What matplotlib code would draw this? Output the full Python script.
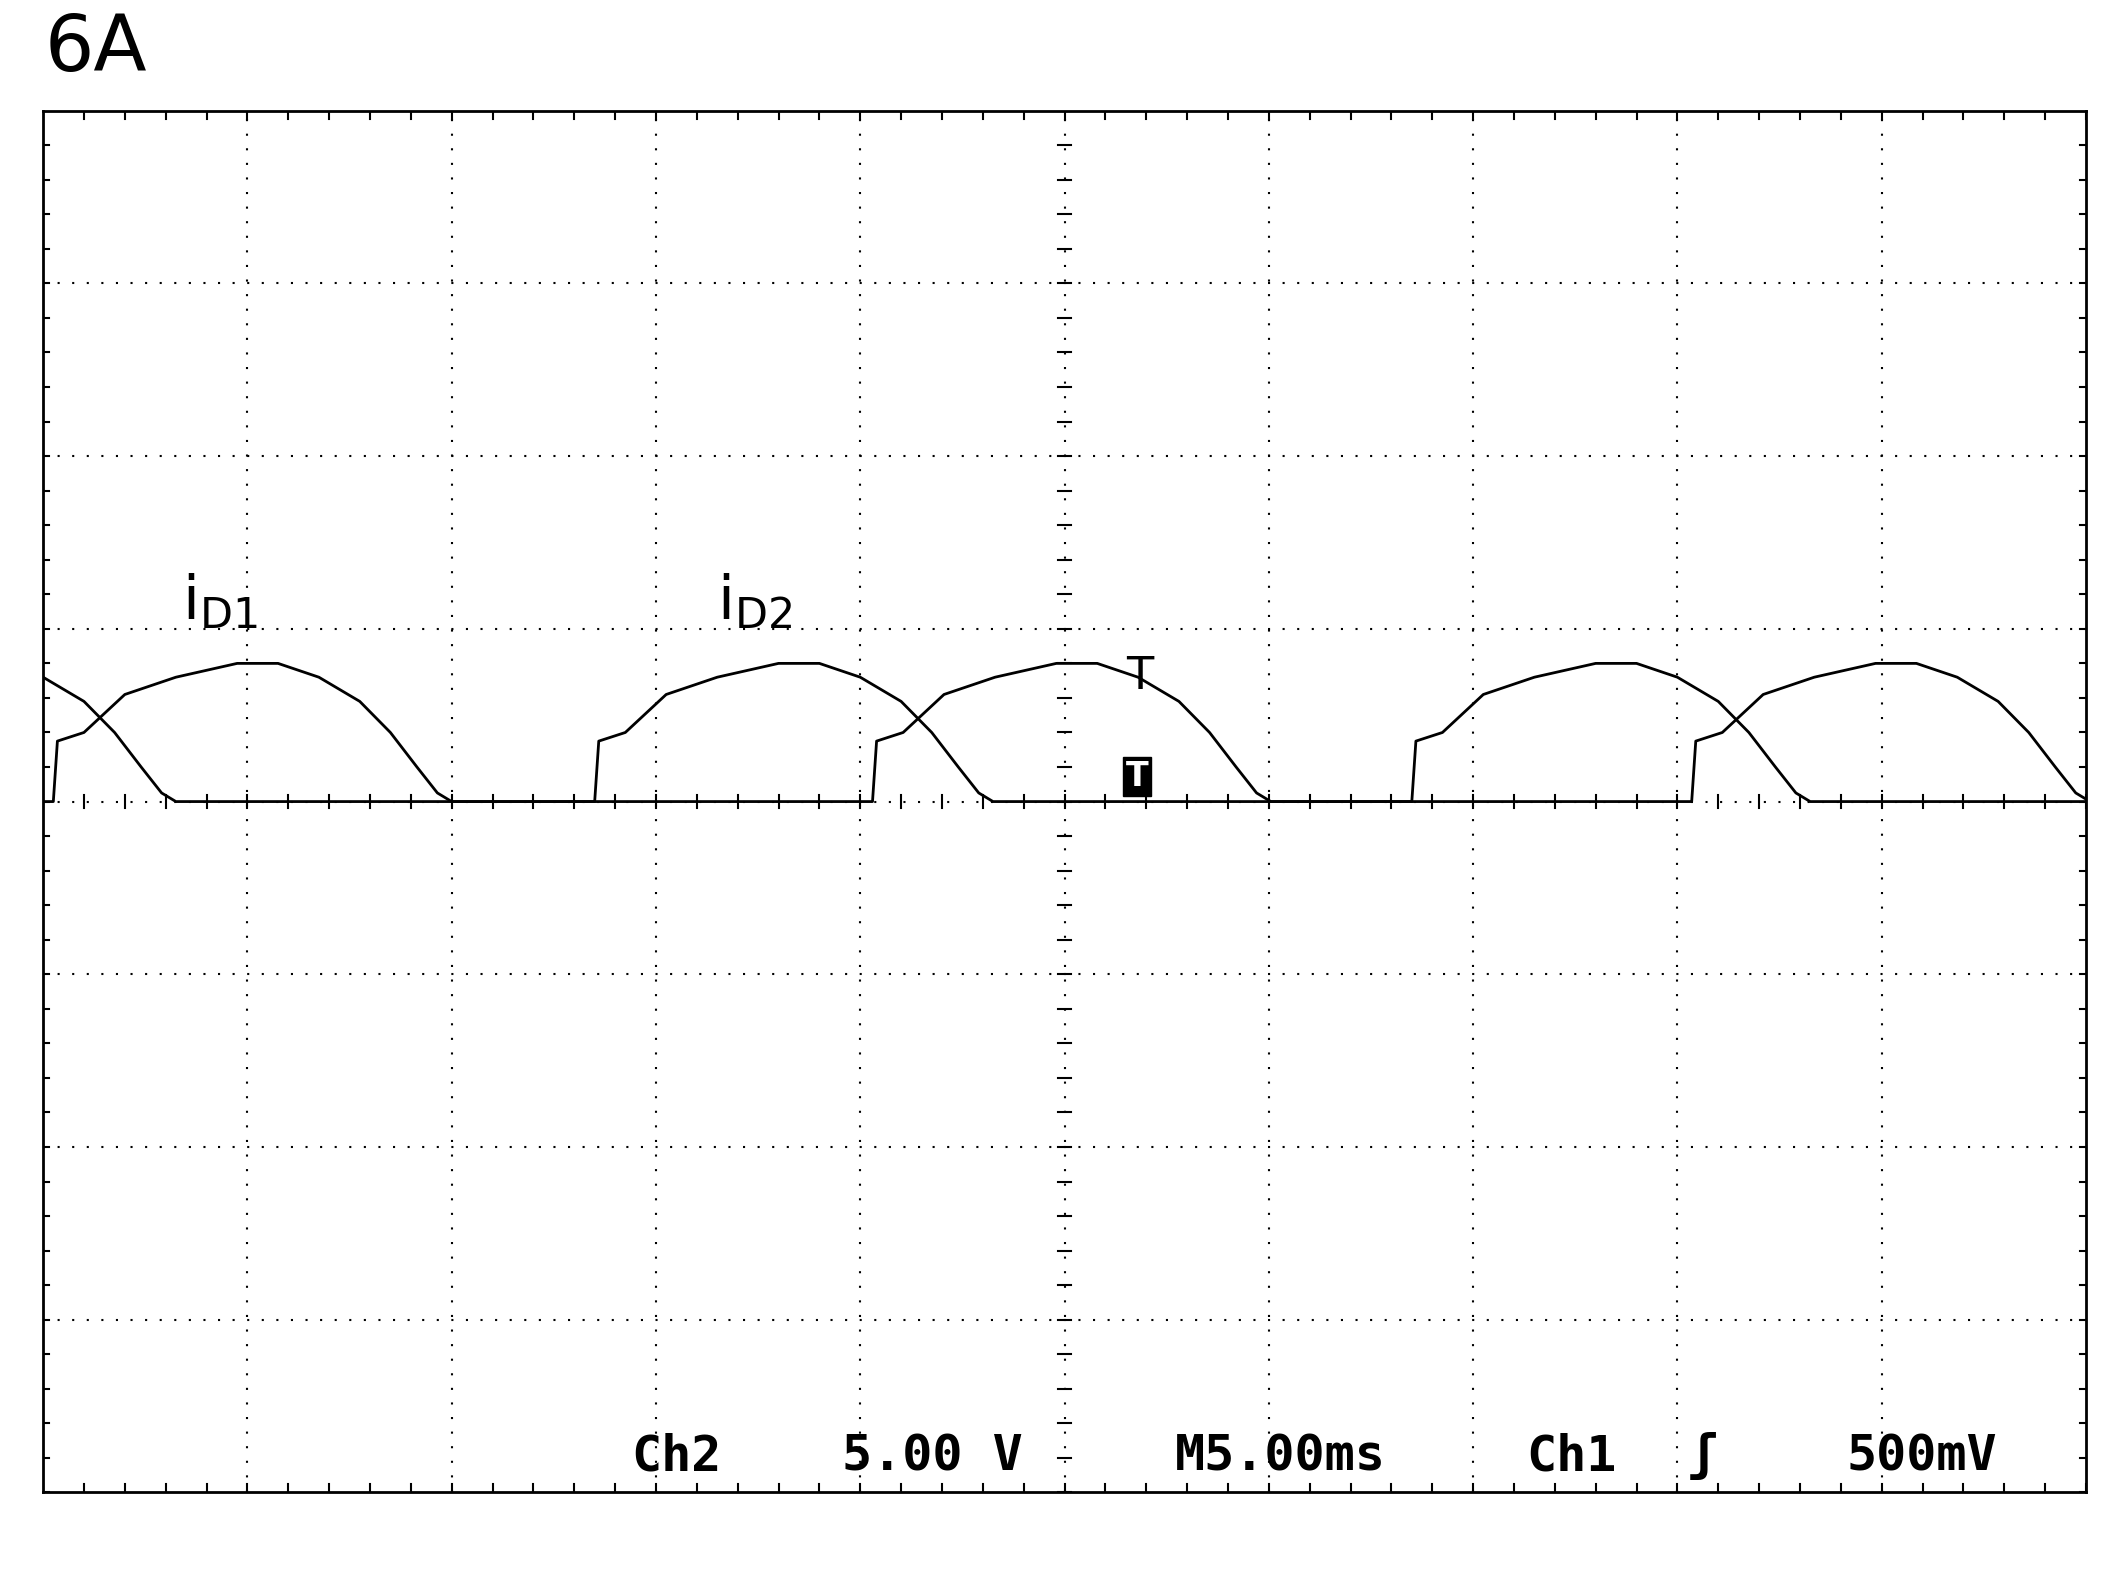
import matplotlib
matplotlib.use("Agg")
import matplotlib.pyplot as plt
import numpy as np

# pulse shape (offset in divisions, amplitude in divisions)
shape_t = [0.0, 0.02, 0.15, 0.35, 0.6, 0.9, 1.1, 1.3, 1.5, 1.65, 1.78, 1.88, 1.95]
shape_a = [0.0, 0.35, 0.40, 0.62, 0.72, 0.80, 0.80, 0.72, 0.58, 0.40, 0.20, 0.05, 0.0]
d1_starts = [0.05, 4.06, 8.07]
d2_starts = [-1.3, 2.7, 6.7]
status_labels = ['Ch2', '5.00 V', 'M5.00ms', 'Ch1', '\u0283', '500mV']
status_x = [2.88, 3.91, 5.54, 7.26, 8.05, 8.83]

def trace(starts):
    t = [-2.0]; a = [0.0]
    for s in starts:
        t += [s + x for x in shape_t]; a += shape_a
    t.append(12); a.append(0.0)
    return np.array(t), np.array(a)

fig = plt.figure(figsize=(21.13, 15.81), dpi=100)
ax = fig.add_axes([0.0204, 0.056, 0.9668, 0.874])
ax.set_xlim(0, 10); ax.set_ylim(-4, 4)
for s in ax.spines.values():
    s.set_linewidth(2)
ax.set_xticks([]); ax.set_yticks([])
for x in range(1, 10):
    ax.axvline(x, color='k', ls=(0, (1, 6)), lw=1.5)
for y in range(-3, 4):
    ax.axhline(y, color='k', ls=(0, (1, 6)), lw=1.5)
for x in np.arange(0, 10.01, 0.2):
    ax.plot([x, x], [-0.04, 0.04], color='k', lw=1.5)
    ax.plot([x, x], [3.95, 4], color='k', lw=1.5)
    ax.plot([x, x], [-4, -3.95], color='k', lw=1.5)
for y in np.arange(-4, 4.01, 0.2):
    ax.plot([4.97, 5.03], [y, y], color='k', lw=1.5)
    ax.plot([0, 0.03], [y, y], color='k', lw=1.5)
    ax.plot([9.97, 10], [y, y], color='k', lw=1.5)

for st in (d1_starts, d2_starts):
    t, a = trace(st)
    ax.plot(t, a, color='k', lw=2)

ax.text(0.68, 0.98, r'i$_{\mathregular{D1}}$', fontsize=44, ha='left', va='bottom')
ax.text(3.3, 0.98, r'i$_{\mathregular{D2}}$', fontsize=44, ha='left', va='bottom')
ax.text(5.3, 0.85, 'T', fontsize=32, ha='left', va='top')
ax.text(5.3, 0.05, 'T', fontsize=24, ha='left', va='bottom', color='white',
        fontweight='bold', bbox=dict(facecolor='k', edgecolor='k', pad=2))
for lab, x in zip(status_labels, status_x):
    ax.text(x, -3.93, lab, fontsize=36, family='DejaVu Sans Mono', fontweight='bold',
            ha='left', va='bottom')
fig.text(0.021, 0.945, '6A', fontsize=56, ha='left', va='bottom')
fig.savefig('out.png', dpi=100, facecolor='white')
